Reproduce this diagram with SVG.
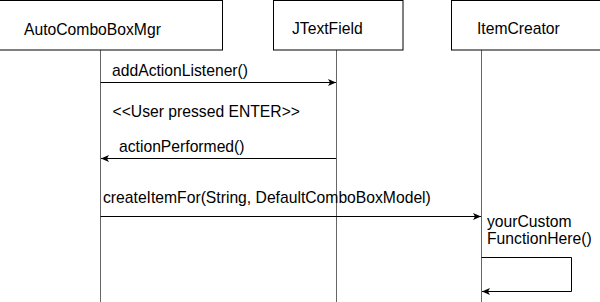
<svg xmlns="http://www.w3.org/2000/svg" width="600" height="302" viewBox="0 0 600 302">
<style>
.box{fill:#fff;stroke:#000;stroke-width:1}
.life{stroke:#666;stroke-width:1;fill:none}
.msg{stroke:#000;stroke-width:1;fill:none}
text{font-family:"Liberation Sans",Arial,sans-serif;font-size:15.7px;fill:#000}
</style>
<defs>
<marker id="ah" markerWidth="10" markerHeight="8" refX="8" refY="3.5" orient="auto" markerUnits="userSpaceOnUse">
<path d="M0,0 L8,3.5 L0,7 L2,3.5 z" fill="#000"/>
</marker>
</defs>
<rect x="0" y="0" width="600" height="302" fill="#fff"/>
<g id="lifelines">
<line class="life" x1="100.5" y1="50" x2="100.5" y2="302"/>
<line class="life" x1="336.5" y1="50" x2="336.5" y2="302"/>
<line class="life" x1="481.5" y1="50" x2="481.5" y2="302"/>
</g>
<g id="node-autocomboboxmgr">
<rect class="box" x="-23" y="0.5" width="245.5" height="49.5"/>
<text x="24" y="35">AutoComboBoxMgr</text>
</g>
<g id="node-jtextfield">
<rect class="box" x="273.5" y="0.5" width="129.5" height="49.5"/>
<text x="292" y="34">JTextField</text>
</g>
<g id="node-itemcreator">
<rect class="box" x="451.5" y="0.5" width="200" height="49.5"/>
<text x="477" y="34">ItemCreator</text>
</g>
<g id="connectors">
<line class="msg" x1="100.5" y1="82.5" x2="336" y2="82.5" marker-end="url(#ah)"/>
<line class="msg" x1="336" y1="158.5" x2="101" y2="158.5" marker-end="url(#ah)"/>
<line class="msg" x1="100.5" y1="216.5" x2="481" y2="216.5" marker-end="url(#ah)"/>
<path class="msg" d="M481.5,257.5 H571.5 V291.5 H482" marker-end="url(#ah)"/>
</g>
<g id="labels">
<text x="112" y="76">addActionListener()</text>
<text x="112.5" y="117">&lt;&lt;User pressed ENTER&gt;&gt;</text>
<text x="119" y="152">actionPerformed()</text>
<text x="103" y="203">createItemFor(String, DefaultComboBoxModel)</text>
<text x="487" y="227">yourCustom</text>
<text x="487" y="244">FunctionHere()</text>
</g>
</svg>
